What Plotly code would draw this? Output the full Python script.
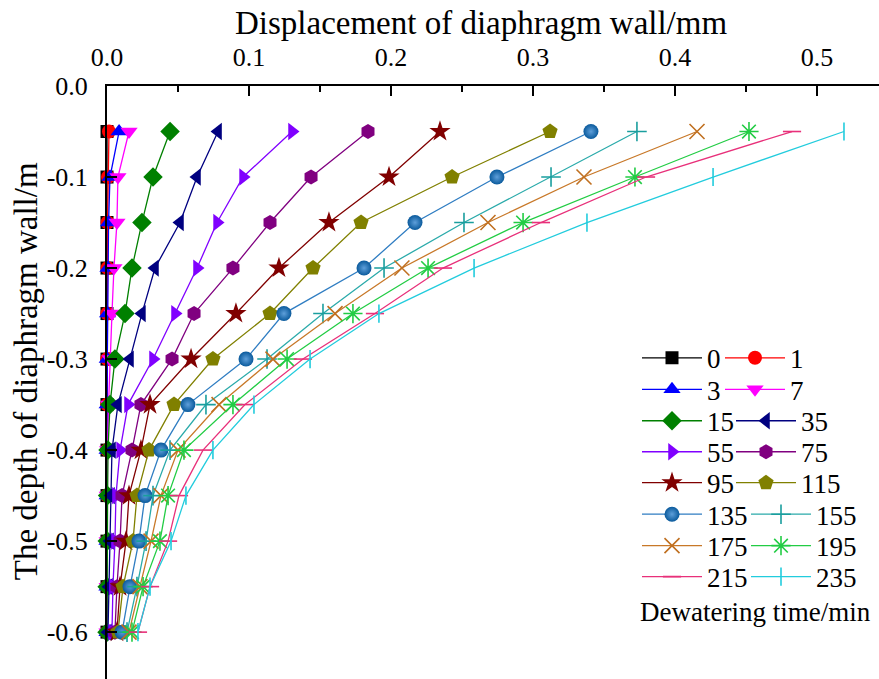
import plotly.graph_objects as go

# ---------------- data ----------------
depth = [-0.05, -0.10, -0.15, -0.20, -0.25, -0.30, -0.35, -0.40, -0.45, -0.50, -0.55, -0.60]
times = ["0", "1", "3", "7", "15", "35", "55", "75", "95", "115", "135", "155", "175", "195", "215", "235"]

d0 = [0, 0, 0, 0, 0, 0, 0, 0, 0, 0, 0, 0]
d1 = [0.0014, 0.0007, 0.0004, 0.0004, 0.0002, 0.0001, 0.0001, 0.0001, 0, 0, 0, 0]
d3 = [0.0085, 0.0021, 0.0011, 0.0007, 0.0004, 0.0002, 0.0001, 0.0001, 0.0001, 0, 0, 0]
d7 = [0.0155, 0.0077, 0.0070, 0.0049, 0.0035, 0.0021, 0.0011, 0.0004, 0.0002, 0.0001, 0.0001, 0]
d15 = [0.0444, 0.0324, 0.0246, 0.0176, 0.0127, 0.0056, 0.0021, 0.0007, 0.0004, 0.0002, 0.0001, 0]
d35 = [0.0782, 0.0634, 0.0514, 0.0338, 0.0246, 0.0162, 0.0077, 0.0035, 0.0028, 0.0021, 0.0014, 0.0007]
d55 = [0.1303, 0.0958, 0.0775, 0.0634, 0.0479, 0.0324, 0.0148, 0.0092, 0.0063, 0.0056, 0.0042, 0.0035]
d75 = [0.1838, 0.1437, 0.1148, 0.0887, 0.0613, 0.0458, 0.0239, 0.0176, 0.0106, 0.0092, 0.0070, 0.0056]
d95 = [0.2345, 0.1986, 0.1563, 0.1211, 0.0908, 0.0592, 0.0303, 0.0239, 0.0155, 0.0134, 0.0092, 0.0070]
d115 = [0.3120, 0.2430, 0.1789, 0.1451, 0.1148, 0.0746, 0.0472, 0.0296, 0.0211, 0.0183, 0.0113, 0.0077]
d135 = [0.3408, 0.2746, 0.2169, 0.1810, 0.1246, 0.0979, 0.0570, 0.0380, 0.0268, 0.0225, 0.0162, 0.0106]
d155 = [0.3732, 0.3127, 0.2514, 0.1951, 0.1521, 0.1127, 0.0697, 0.0444, 0.0324, 0.0275, 0.0211, 0.0141]
d175 = [0.4155, 0.3359, 0.2683, 0.2077, 0.1606, 0.1169, 0.0789, 0.0500, 0.0380, 0.0310, 0.0232, 0.0155]
d195 = [0.4521, 0.3718, 0.2930, 0.2261, 0.1732, 0.1268, 0.0887, 0.0542, 0.0430, 0.0373, 0.0254, 0.0176]
d215 = [0.4824, 0.3796, 0.3056, 0.2366, 0.1887, 0.1380, 0.0972, 0.0676, 0.0507, 0.0430, 0.0303, 0.0218]
d235 = [0.5190, 0.4268, 0.3380, 0.2585, 0.1915, 0.1430, 0.1035, 0.0746, 0.0556, 0.0451, 0.0303, 0.0218]

series = [d0, d1, d3, d7, d15, d35, d55, d75, d95, d115, d135, d155, d175, d195, d215, d235]

x_ticks = [0.0, 0.1, 0.2, 0.3, 0.4, 0.5]
x_ticktext = ["0.0", "0.1", "0.2", "0.3", "0.4", "0.5"]
y_ticks = [0.0, -0.1, -0.2, -0.3, -0.4, -0.5, -0.6]
y_ticktext = ["0.0", "-0.1", "-0.2", "-0.3", "-0.4", "-0.5", "-0.6"]

# ---------------- styles ----------------
line_colors = ["#000000", "#FF0000", "#0000FF", "#FF00FF", "#008000", "#000080", "#8000FF", "#800080",
               "#800000", "#808000", "#2F7DC2", "#2AAAAA", "#C87828", "#22CC44", "#E8307A", "#22CCDD"]
marker_colors = ["#000000", "#FF0000", "#0000FF", "#FF00FF", "#008000", "#000080", "#8000FF", "#800080",
                 "#800000", "#808000", "#0A5A9C", "#1A9E9E", "#C07020", "#22CC44", "#E8307A", "#22CCDD"]
symbols = ["square", "circle", "triangle-up", "triangle-down", "diamond", "triangle-left", "triangle-right",
           "hexagon", "star", "pentagon", "circle", "cross-thin", "x-thin", "asterisk", "line-ew", "line-ns"]
sizes = [13, 14, 15, 15, 15, 15, 15, 15, 16, 16, 15, 14, 15, 16, 13, 13]

W, H = 879, 679
ML, MR, MT, MB = 107, 0, 85.5, 0
PW, PH = W - ML - MR, H - MT - MB


def px_x(p):
    return (p - ML) / PW


def px_y(p):
    return (H - MB - p) / PH


fig = go.Figure()

legend_layout = {}
row_y = [358, 389.5, 421, 452, 483, 514.5, 546, 577]
col2_text = [790, 790, 801, 801, 801, 816, 816, 816]
ITEMW = 60

for i, (t, vals) in enumerate(zip(times, series)):
    key = "legend" if i == 0 else f"legend{i + 1}"
    thin = symbols[i] in ("cross-thin", "x-thin", "asterisk", "line-ew", "line-ns")
    marker = dict(symbol=symbols[i], size=sizes[i], color=marker_colors[i])
    if thin:
        marker["line"] = dict(color=marker_colors[i], width=1.6)
    else:
        marker["line"] = dict(width=0)
    if i == 10:
        marker["gradient"] = dict(type="radial", color="#5E9FDA")
    fig.add_trace(go.Scatter(
        x=vals, y=depth, mode="lines+markers", name=t,
        line=dict(color=line_colors[i], width=1.3),
        marker=marker, legend=key, cliponaxis=False,
    ))
    row = i // 2
    if i % 2 == 0:
        text_x = 707
    else:
        text_x = col2_text[row]
    legend_layout[key] = dict(
        x=px_x(text_x - ITEMW - 10), y=px_y(row_y[row]), xanchor="left", yanchor="middle",
        bgcolor="rgba(0,0,0,0)", borderwidth=0,
        font=dict(family="Liberation Serif", size=27, color="black"),
        itemwidth=ITEMW, tracegroupgap=0,
    )

fig.update_layout(**legend_layout)

fig.update_layout(
    width=W, height=H,
    margin=dict(l=ML, r=MR, t=MT, b=MB, autoexpand=False),
    plot_bgcolor="white", paper_bgcolor="white",
    font=dict(family="Liberation Serif", size=26, color="black"),
    showlegend=True,
    xaxis=dict(
        side="top", range=[0, PW / 1420], tickvals=x_ticks, ticktext=x_ticktext,
        showline=True, linewidth=2, linecolor="black", mirror=False,
        ticks="inside", ticklen=10, tickwidth=2, tickcolor="black",
        minor=dict(ticks="inside", ticklen=6, tickwidth=2, tickcolor="black", dtick=0.05, showgrid=False),
        showgrid=False, zeroline=False, ticklabelstandoff=8,
        tickfont=dict(family="Liberation Serif", size=26, color="black"),
    ),
    yaxis=dict(
        range=[-PH / 911, 0], tickvals=y_ticks, ticktext=y_ticktext,
        showline=True, linewidth=2, linecolor="black", mirror=False,
        ticks="inside", ticklen=10, tickwidth=2, tickcolor="black",
        showgrid=False, zeroline=False, ticklabelstandoff=12,
        tickfont=dict(family="Liberation Serif", size=26, color="black"),
    ),
    annotations=[
        dict(text="Displacement of diaphragm wall/mm", xref="paper", yref="paper",
             x=px_x(481), y=px_y(22), xanchor="center", yanchor="middle", showarrow=False,
             font=dict(family="Liberation Serif", size=33, color="black")),
        dict(text="The depth of diaphragm wall/m", xref="paper", yref="paper",
             x=px_x(26), y=px_y(371), xanchor="center", yanchor="middle", showarrow=False,
             textangle=-90, font=dict(family="Liberation Serif", size=33, color="black")),
        dict(text="Dewatering time/min", xref="paper", yref="paper",
             x=px_x(638), y=px_y(612), xanchor="left", yanchor="middle", showarrow=False,
             font=dict(family="Liberation Serif", size=27, color="black")),
    ],
)

fig.write_html("out.html")
